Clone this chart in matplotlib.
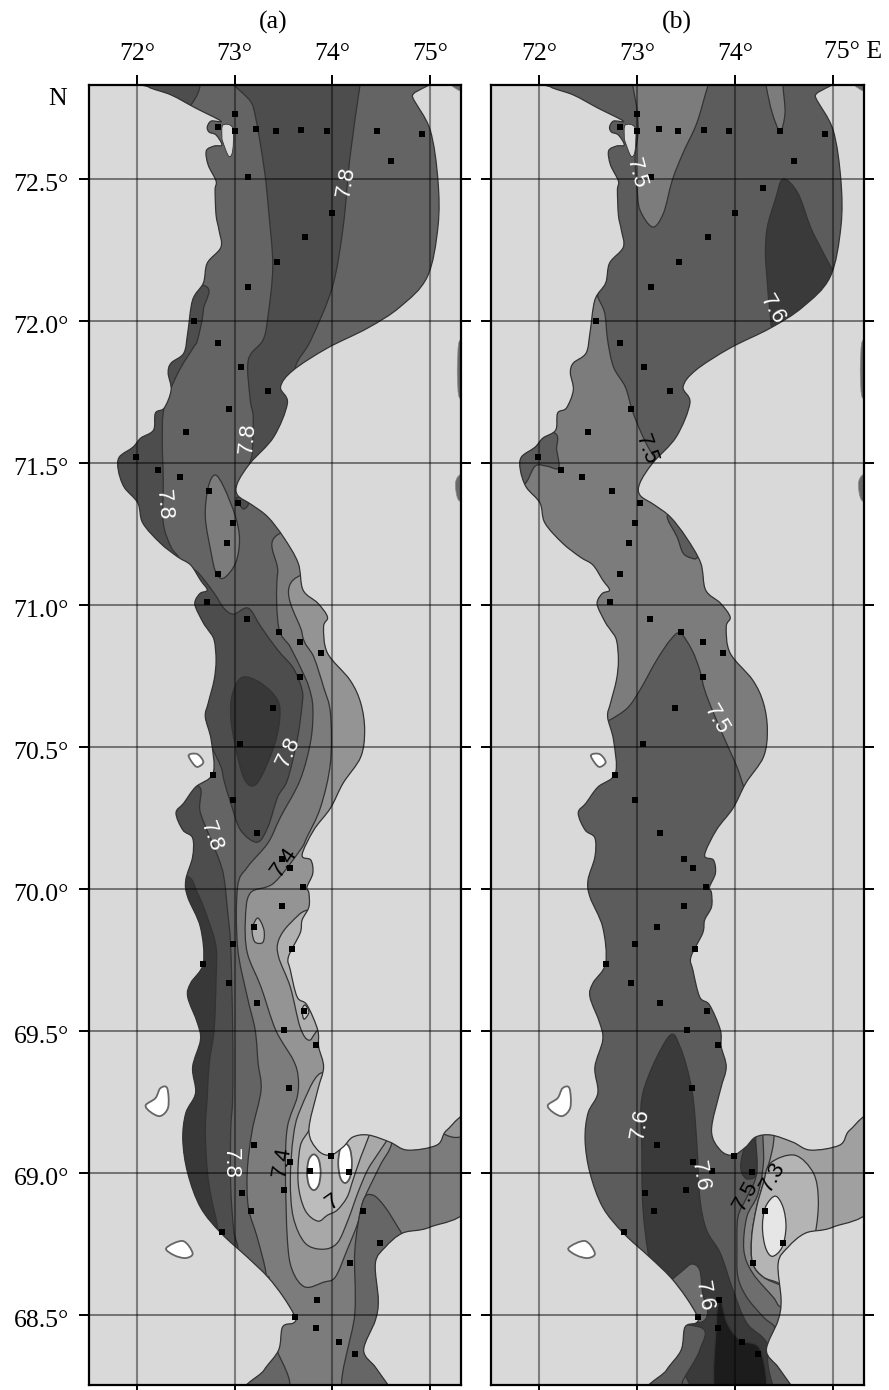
import numpy as np
import matplotlib
matplotlib.use("Agg")
import matplotlib.pyplot as plt
from matplotlib.path import Path
from matplotlib.patches import PathPatch
from matplotlib.transforms import ScaledTranslation

plt.rcParams['font.family'] = ['Liberation Serif', 'DejaVu Serif']

# ====================
# Axis values
# ====================
lon_ticks = [72, 73, 74, 75]
lat_ticks = [72.5, 72.0, 71.5, 71.0, 70.5, 70.0, 69.5, 69.0, 68.5]
lon_labels = ['72°', '73°', '74°', '75°']
lat_labels = ['72.5°', '72.0°', '71.5°', '71.0°', '70.5°', '70.0°', '69.5°', '69.0°', '68.5°']

# ====================
# Coast of the gulf (lon, lat)
# ====================
coast_lon = [72.12, 72.35, 72.60, 72.86, 72.76, 72.72, 72.74, 72.81, 72.87, 72.79, 72.71, 72.73, 72.81, 72.80,
             72.81, 72.84, 72.86, 72.72, 72.68, 72.57, 72.52, 72.48, 72.35, 72.32, 72.35, 72.28, 72.19, 72.17,
             72.04, 71.96, 71.82, 71.81, 71.87, 72.01, 72.06, 72.24, 72.42, 72.55, 72.65, 72.72, 72.65, 72.60,
             72.60, 72.68, 72.73, 72.79, 72.81, 72.79, 72.73, 72.70, 72.76, 72.78, 72.60, 72.48, 72.40, 72.47,
             72.57, 72.57, 72.50, 72.52, 72.65, 72.68, 72.55, 72.52, 72.62, 72.65, 72.57, 72.60, 72.50, 72.47,
             72.52, 72.65, 72.86, 73.13, 73.34, 73.50, 73.62, 73.60, 73.49, 73.45, 73.30, 73.16, 74.64, 74.57,
             74.44, 74.32, 74.44, 74.47, 74.44, 74.54, 74.72, 75.00, 75.41, 75.41, 75.17, 75.07, 74.77, 74.59,
             74.37, 74.21, 74.11, 73.98, 73.85, 73.76, 73.85, 73.91, 73.86, 73.85, 73.74, 73.64, 73.57, 73.55,
             73.67, 73.69, 73.76, 73.76, 73.74, 73.80, 73.78, 73.69, 73.81, 73.98, 74.11, 74.29, 74.33, 74.29,
             74.18, 73.95, 73.91, 73.95, 73.85, 73.70, 73.65, 73.50, 73.34, 73.18, 73.03, 73.03, 73.16, 73.40,
             73.54, 73.47, 73.60, 73.95, 74.36, 74.69, 74.97, 75.08, 75.08, 75.00, 74.82, 74.80, 72.12]
coast_lat = [72.824, 72.796, 72.750, 72.704, 72.704, 72.683, 72.665, 72.655, 72.620, 72.616, 72.599, 72.549,
             72.493, 72.461, 72.373, 72.320, 72.260, 72.204, 72.134, 72.074, 71.958, 71.887, 71.852, 71.817,
             71.757, 71.694, 71.676, 71.616, 71.588, 71.556, 71.521, 71.475, 71.415, 71.359, 71.289, 71.218,
             71.169, 71.141, 71.088, 71.053, 71.042, 71.018, 70.993, 70.937, 70.912, 70.877, 70.806, 70.736,
             70.655, 70.606, 70.525, 70.408, 70.359, 70.303, 70.268, 70.208, 70.180, 70.113, 70.032, 69.972,
             69.866, 69.739, 69.669, 69.620, 69.528, 69.468, 69.373, 69.282, 69.211, 69.116, 69.000, 68.880,
             68.789, 68.704, 68.634, 68.563, 68.493, 68.472, 68.458, 68.377, 68.306, 68.218, 68.218, 68.254,
             68.317, 68.377, 68.482, 68.553, 68.683, 68.739, 68.789, 68.810, 68.891, 69.194, 69.151, 69.099,
             69.081, 69.109, 69.134, 69.127, 69.092, 69.063, 69.081, 69.151, 69.292, 69.373, 69.444, 69.504,
             69.592, 69.620, 69.715, 69.761, 69.845, 69.891, 69.937, 69.986, 70.007, 70.056, 70.102, 70.120,
             70.208, 70.285, 70.373, 70.465, 70.560, 70.655, 70.736, 70.831, 70.923, 70.958, 71.007, 71.053,
             71.148, 71.239, 71.310, 71.352, 71.387, 71.430, 71.500, 71.592, 71.711, 71.768, 71.827, 71.905,
             71.975, 72.049, 72.155, 72.331, 72.496, 72.673, 72.789, 72.849, 72.849]

# Land pieces and islands
lagoon_lon = [72.88, 72.98, 72.98, 72.94, 72.88, 72.87]
lagoon_lat = [72.69, 72.68, 72.60, 72.58, 72.63, 72.65]
island1_lon = [72.24, 72.31, 72.32, 72.24, 72.14, 72.09, 72.19]
island1_lat = [69.299, 69.299, 69.232, 69.201, 69.215, 69.239, 69.264]
island2_lon = [72.30, 72.47, 72.57, 72.50, 72.38]
island2_lat = [68.736, 68.761, 68.718, 68.701, 68.711]
island3_lon = [72.53, 72.62, 72.68, 72.62, 72.57]
island3_lat = [70.472, 70.475, 70.447, 70.430, 70.444]
east1_lon = [75.30, 75.28, 75.28, 75.30, 75.40, 75.40]
east1_lat = [71.93, 71.85, 71.80, 71.73, 71.73, 71.93]
east2_lon = [75.31, 75.26, 75.29, 75.40, 75.40]
east2_lat = [71.46, 71.43, 71.37, 71.37, 71.46]
east3_lon = [75.22, 75.22, 75.31, 75.40, 75.40]
east3_lat = [72.85, 72.83, 72.81, 72.81, 72.85]

# Stations
station_lon = [73.00, 72.83, 73.00, 73.22, 73.42, 73.68, 73.94, 74.46, 74.92, 74.60, 73.14, 74.00, 73.72, 73.43,
               73.14, 72.58, 72.83, 73.07, 73.34, 72.94, 72.50, 71.99, 72.22, 72.44, 72.74, 73.03, 72.98, 72.92,
               72.83, 72.72, 73.13, 73.45, 73.67, 73.88, 73.67, 73.39, 73.06, 72.78, 72.98, 73.23, 73.48, 73.57,
               73.70, 73.48, 73.20, 73.59, 72.98, 72.68, 72.94, 73.23, 73.71, 73.51, 73.83, 73.56, 73.20, 73.57,
               73.99, 73.77, 74.17, 73.50, 73.08, 73.17, 74.31, 74.49, 74.18, 72.87, 73.84, 73.62, 73.83, 74.07,
               74.23]
station_lat = [72.729, 72.683, 72.669, 72.676, 72.669, 72.673, 72.669, 72.669, 72.658, 72.563, 72.507, 72.380,
               72.296, 72.208, 72.120, 72.000, 71.923, 71.838, 71.754, 71.690, 71.609, 71.521, 71.475, 71.451,
               71.401, 71.359, 71.289, 71.218, 71.109, 71.011, 70.951, 70.905, 70.870, 70.831, 70.746, 70.637,
               70.511, 70.401, 70.313, 70.197, 70.106, 70.074, 70.007, 69.940, 69.866, 69.789, 69.806, 69.736,
               69.669, 69.599, 69.570, 69.504, 69.451, 69.299, 69.099, 69.039, 69.060, 69.007, 69.004, 68.940,
               68.930, 68.866, 68.866, 68.754, 68.683, 68.792, 68.553, 68.493, 68.454, 68.405, 68.363]
extra_station_b_lon = [74.29]
extra_station_b_lat = [72.468]

# ====================
# Panel (a) isohaline areas
# ====================
a_topleft_lon = [72.12, 72.62, 72.55, 72.35, 71.94]
a_topleft_lat = [72.849, 72.849, 72.76, 72.743, 72.813]
a_band_lon = [73.06, 73.19, 73.30, 73.35, 73.39, 73.34, 73.29, 73.14, 73.16, 73.19, 73.18, 73.16, 73.29, 73.67,
              73.62, 73.78, 74.00, 74.11, 74.18, 74.28, 74.29]
a_band_lat = [72.849, 72.754, 72.542, 72.380, 72.190, 72.014, 71.933, 71.863, 71.722, 71.662, 71.535, 71.493,
              71.468, 71.722, 71.835, 71.933, 72.120, 72.331, 72.577, 72.824, 72.849]
a_west_lon = [72.65, 72.68, 72.62, 72.58, 72.42, 72.28, 72.26, 72.27, 72.27, 72.35, 72.43, 72.45, 71.63, 71.63]
a_west_lat = [72.127, 72.039, 71.933, 71.908, 71.817, 71.697, 71.581, 71.440, 71.289, 71.204, 71.165, 71.106,
              71.158, 72.074]
a_lens_lon = [72.80, 72.89, 73.01, 73.05, 73.01, 72.89, 72.81, 72.76, 72.70, 72.73]
a_lens_lat = [71.458, 71.415, 71.310, 71.229, 71.148, 71.095, 71.113, 71.183, 71.310, 71.415]
a_spot_lon = [73.03, 73.14, 73.09, 73.03]
a_spot_lat = [71.38, 71.359, 71.338, 71.366]
a_mid_lon = [72.55, 72.62, 72.79, 72.89, 72.99, 73.14, 73.27, 73.44, 73.60, 73.69, 73.69, 73.64, 73.54, 73.44,
             73.34, 73.23, 73.06, 72.96, 72.89, 72.86, 72.76, 72.70, 72.65, 72.55]
a_mid_lat = [71.116, 71.116, 71.042, 70.989, 70.968, 70.989, 70.923, 70.842, 70.778, 70.701, 70.648, 70.525,
             70.384, 70.324, 70.218, 70.165, 70.208, 70.303, 70.384, 70.430, 70.500, 70.507, 70.666, 71.018]
a_blob_lon = [73.08, 73.27, 73.44, 73.46, 73.40, 73.27, 73.18, 73.09, 73.01, 72.96, 72.98]
a_blob_lat = [70.746, 70.725, 70.665, 70.595, 70.500, 70.394, 70.363, 70.394, 70.500, 70.606, 70.690]
a_south_lon = [72.60, 72.65, 72.83, 72.89, 72.93, 72.96, 72.98, 72.98, 72.96, 72.96, 72.99, 73.02, 72.76, 71.73,
               71.94]
a_south_lat = [70.366, 70.268, 70.113, 70.042, 69.915, 69.796, 69.504, 69.268, 69.151, 68.951, 68.799, 68.729,
               68.729, 69.257, 70.313]
a_deep_lon = [72.48, 72.62, 72.73, 72.81, 72.81, 72.79, 72.74, 72.72, 72.70, 72.72, 72.76, 72.83, 72.78, 71.79,
              71.94]
a_deep_lat = [70.049, 69.986, 69.891, 69.796, 69.680, 69.504, 69.387, 69.268, 69.151, 69.011, 68.915, 68.799,
              68.764, 69.257, 70.032]
a_east7_lon = [73.57, 73.44, 73.45, 73.57, 73.70, 73.76, 73.80, 73.78, 73.67, 73.47, 73.34, 73.13, 73.03, 73.03,
               73.13, 73.21, 73.24, 73.27, 73.18, 73.13, 73.14, 73.23, 73.32, 73.29, 72.65, 75.51, 75.51]
a_east7_lat = [71.264, 71.113, 70.923, 70.852, 70.761, 70.711, 70.641, 70.525, 70.384, 70.254, 70.162, 70.077,
               70.007, 69.796, 69.620, 69.504, 69.387, 69.292, 69.151, 69.011, 68.880, 68.775, 68.648, 68.588,
               68.200, 68.200, 71.264]
a_east9_lon = [73.69, 73.69, 73.81, 73.91, 73.98, 73.98, 73.88, 73.74, 73.67, 73.40, 73.16, 73.11, 73.13, 73.27,
               73.42, 73.60, 73.65, 73.64, 73.54, 73.52, 73.54, 73.59, 73.72, 73.91, 74.03, 74.15, 74.26, 74.32,
               74.49, 74.61, 74.64, 75.51, 75.51]
a_east9_lat = [71.106, 70.901, 70.817, 70.711, 70.620, 70.444, 70.289, 70.183, 70.137, 70.021, 69.986, 69.891,
               69.775, 69.655, 69.504, 69.398, 69.338, 69.268, 69.162, 69.011, 68.764, 68.658, 68.599, 68.616,
               68.634, 68.729, 68.824, 68.905, 69.028, 69.109, 69.257, 69.257, 71.106]
a_se_lon = [74.13, 74.23, 74.23, 74.31, 74.41, 74.54, 74.72, 74.95, 74.95]
a_se_lat = [68.200, 68.507, 68.729, 68.898, 68.923, 68.880, 68.782, 68.658, 68.200]
a_sw_lon = [73.39, 73.44, 73.55, 73.06, 73.06]
a_sw_lat = [68.394, 68.370, 68.236, 68.200, 68.394]
a_north_lon = [73.78, 73.57, 73.45, 73.45, 73.57, 73.67, 73.76, 73.85, 74.13, 74.13]
a_north_lat = [69.926, 69.880, 69.820, 69.761, 69.655, 69.514, 69.468, 69.504, 69.610, 69.856]
a_isle_lon = [73.19, 73.24, 73.30, 73.29, 73.21, 73.18]
a_isle_lat = [69.873, 69.898, 69.856, 69.813, 69.813, 69.845]
a_coastspot_lon = [73.69, 73.72, 73.76, 73.71]
a_coastspot_lat = [69.574, 69.592, 69.567, 69.542]
a_inner1_lon = [73.88, 73.67, 73.60, 73.57, 73.60, 73.72, 73.90, 74.05, 74.16, 74.26, 74.36, 74.47, 74.59, 74.64,
                74.13]
a_inner1_lat = [69.352, 69.222, 69.127, 68.975, 68.845, 68.754, 68.732, 68.754, 68.835, 68.930, 69.011, 69.070,
                69.134, 69.187, 69.292]
a_inner2_lon = [73.76, 73.67, 73.65, 73.72, 73.85, 73.95, 74.05, 74.15, 74.21, 74.29, 74.37, 74.41, 73.88]
a_inner2_lat = [69.151, 69.092, 68.965, 68.870, 68.831, 68.852, 68.870, 68.915, 68.975, 69.056, 69.127, 69.180,
                69.239]
a_fresh1_lon = [73.81, 73.86, 73.88, 73.86, 73.81, 73.76, 73.74, 73.76]
a_fresh1_lat = [69.066, 69.048, 69.003, 68.958, 68.940, 68.958, 69.003, 69.048]
a_fresh2_lon = [74.13, 74.18, 74.20, 74.18, 74.13, 74.08, 74.06, 74.08]
a_fresh2_lat = [69.105, 69.085, 69.035, 68.985, 68.965, 68.985, 69.035, 69.085]
a_text = ['7.8', '7.8', '7.8', '7.8', '7.8', '7.4', '7.8', '7.4', '7']
a_text_lon = [74.14, 73.13, 72.27, 73.55, 72.76, 73.51, 72.96, 73.49, 74.00]
a_text_lat = [72.489, 71.588, 71.352, 70.482, 70.183, 70.095, 69.035, 69.039, 68.898]
a_text_rot = [80, 85, -85, 65, -70, 55, -90, 80, 35]
a_text_col = ['white', 'white', 'white', 'white', 'white', 'black', 'white', 'black', 'black']

# ====================
# Panel (b) isohaline areas
# ====================
b_tongue_lon = [72.96, 73.00, 73.01, 72.98, 73.00, 73.03, 73.16, 73.27, 73.36, 73.47, 73.61, 73.72, 73.77, 72.96]
b_tongue_lat = [72.824, 72.743, 72.662, 72.577, 72.472, 72.391, 72.331, 72.380, 72.496, 72.592, 72.697, 72.824,
                72.859, 72.859]
b_tongue2_lon = [74.32, 74.38, 74.46, 74.51, 74.49, 74.49, 74.32]
b_tongue2_lat = [72.824, 72.732, 72.669, 72.732, 72.824, 72.860, 72.860]
b_ne_lon = [74.49, 74.64, 74.77, 74.87, 75.00, 75.15, 74.69, 74.41, 74.35, 74.33, 74.31, 74.33, 74.41]
b_ne_lat = [72.500, 72.451, 72.331, 72.261, 72.180, 72.127, 71.968, 71.951, 72.056, 72.134, 72.239, 72.331, 72.426]
b_west_lon = [72.55, 72.60, 72.67, 72.70, 72.76, 72.88, 72.95, 73.03, 73.13, 73.23, 73.37, 73.67, 74.39, 74.49,
              74.13, 74.10, 74.02, 73.93, 73.78, 73.69, 73.64, 73.56, 73.44, 73.34, 73.20, 73.03, 72.90, 72.72,
              72.60, 71.63, 71.63]
b_west_lat = [72.144, 72.085, 72.028, 71.933, 71.838, 71.768, 71.687, 71.616, 71.546, 71.500, 71.475, 71.440,
              70.877, 70.349, 70.331, 70.349, 70.430, 70.500, 70.620, 70.701, 70.771, 70.842, 70.901, 70.877,
              70.806, 70.701, 70.637, 70.595, 70.577, 70.595, 72.144]
b_bulge_lon = [72.14, 72.18, 72.20, 72.08, 71.96, 71.84, 71.63, 71.63]
b_bulge_lat = [71.609, 71.546, 71.482, 71.489, 71.489, 71.423, 71.440, 71.609]
b_spot_lon = [73.31, 73.41, 73.47, 73.56, 73.62, 73.72, 73.52]
b_spot_lat = [71.317, 71.239, 71.183, 71.165, 71.169, 71.229, 71.334]
b_s1_lon = [74.22, 74.22, 74.12, 74.03, 74.02, 74.03, 74.12, 74.29, 74.41, 74.38, 74.69, 75.51, 75.51, 74.39]
b_s1_lat = [69.169, 69.000, 68.915, 68.845, 68.729, 68.634, 68.563, 68.493, 68.454, 68.394, 68.342, 68.553,
            69.257, 69.257]
b_s2_lon = [74.29, 74.29, 74.23, 74.12, 74.09, 74.18, 74.39, 74.47, 74.69, 75.51, 75.51, 74.39]
b_s2_lat = [69.169, 69.035, 68.923, 68.845, 68.729, 68.648, 68.563, 68.528, 68.518, 68.553, 69.257, 69.257]
b_s3_lon = [74.42, 74.38, 74.29, 74.22, 74.17, 74.18, 74.29, 74.47, 74.69, 75.51, 75.51, 74.54]
b_s3_lat = [69.169, 69.081, 68.965, 68.880, 68.775, 68.683, 68.634, 68.606, 68.588, 68.729, 69.257, 69.257]
b_s4_lon = [74.36, 74.61, 74.80, 74.85, 74.82, 74.74, 74.59, 74.49, 74.44, 74.29, 74.18, 74.17, 74.22, 74.29]
b_s4_lat = [69.035, 69.063, 69.000, 68.905, 68.792, 68.729, 68.658, 68.581, 68.613, 68.634, 68.683, 68.775,
            68.880, 68.965]
b_fresh_lon = [74.41, 74.49, 74.52, 74.48, 74.38, 74.31, 74.28, 74.31]
b_fresh_lat = [68.919, 68.880, 68.810, 68.739, 68.707, 68.739, 68.810, 68.880]
b_deep_lon = [73.32, 73.44, 73.56, 73.61, 73.64, 73.71, 73.85, 73.98, 74.12, 74.34, 74.54, 73.67, 73.27, 73.13,
              73.06, 73.05, 73.06]
b_deep_lat = [69.479, 69.444, 69.292, 69.106, 68.915, 68.799, 68.718, 68.588, 68.472, 68.394, 68.200, 68.200,
              68.518, 68.687, 68.880, 69.081, 69.282]
b_gulfblob_lon = [74.06, 74.10, 74.20, 74.22, 74.13, 74.07]
b_gulfblob_lat = [69.035, 69.088, 69.116, 69.000, 68.979, 69.000]
b_black_lon = [73.85, 73.81, 73.82, 74.29, 74.26, 74.05, 73.92]
b_black_lat = [68.553, 68.472, 68.200, 68.200, 68.377, 68.412, 68.472]
b_bottom_lon = [73.64, 73.64, 73.47, 73.44, 72.96, 72.96]
b_bottom_lat = [68.458, 68.377, 68.271, 68.236, 68.236, 68.447]
b_bottom2_lon = [74.34, 74.47, 74.90, 74.69]
b_bottom2_lat = [68.377, 68.200, 68.200, 68.377]
b_patch_lon = [73.35, 73.47, 73.56, 73.64, 73.67, 73.72, 73.65, 73.50, 73.29]
b_patch_lat = [68.623, 68.658, 68.680, 68.658, 68.577, 68.507, 68.475, 68.500, 68.606]
b_text = ['7.5', '7.6', '7.5', '7.5', '7.6', '7.6', '7.5', '7.3', '7.6']
b_text_lon = [72.99, 74.38, 73.09, 73.81, 73.03, 73.64, 74.11, 74.39, 73.68]
b_text_lat = [72.521, 72.039, 71.546, 70.595, 69.173, 68.989, 68.919, 68.986, 68.567]
b_text_rot = [-75, -60, -70, -60, 80, -80, 60, 60, -80]
b_text_col = ['white', 'white', 'black', 'white', 'white', 'white', 'black', 'black', 'white']

LAND = '#d9d9d9'
EDGE = '#333333'
FS = 18.5


def smooth_path(lon, lat):
    pts = np.column_stack([lon, lat])
    n = len(pts)
    verts = [pts[0]]
    codes = [Path.MOVETO]
    for i in range(n):
        p0, p1, p2, p3 = pts[i - 1], pts[i], pts[(i + 1) % n], pts[(i + 2) % n]
        verts += [p1 + (p2 - p0) / 6, p2 - (p3 - p1) / 6, p2]
        codes += [Path.CURVE4] * 3
    return Path(np.array(verts), codes)


def add_area(ax, lon, lat, color, clip=None, lw=0.9, edge=EDGE, z=2):
    patch = PathPatch(smooth_path(lon, lat), facecolor=color, edgecolor=edge, linewidth=lw, zorder=z)
    ax.add_patch(patch)
    if clip is not None:
        patch.set_clip_path(clip)
    return patch


def setup_axes(ax, left_labels):
    ax.set_facecolor(LAND)
    ax.set_xlim(71.51, 75.316)
    ax.set_ylim(68.254, 72.831)
    ax.set_xticks(lon_ticks)
    ax.set_yticks(lat_ticks)
    ax.set_xticklabels(lon_labels)
    ax.set_yticklabels(lat_labels if left_labels else [])
    ax.tick_params(top=True, bottom=True, left=True, right=True, labeltop=True, labelbottom=False,
                   length=7.5, width=1.4, labelsize=FS, pad=7)
    ax.tick_params(axis='y', pad=7)
    # latitude labels sit a little under their ticks
    down = ScaledTranslation(0, -2.2 / 72, fig.dpi_scale_trans)
    for label in ax.get_yticklabels():
        label.set_transform(label.get_transform() + down)
    for s in ax.spines.values():
        s.set_linewidth(1.6)
        s.set_zorder(8)
    for x in lon_ticks:
        ax.axvline(x, color='black', alpha=0.42, lw=1.5, zorder=5)
    for y in lat_ticks:
        ax.axhline(y, color='black', alpha=0.55, lw=1.2, zorder=5)


def add_common(ax, sea):
    for lon, lat in [(east1_lon, east1_lat), (east2_lon, east2_lat), (east3_lon, east3_lat)]:
        add_area(ax, lon, lat, '#6a6a6a', lw=0.5, edge='#888888')
    for lon, lat in [(island1_lon, island1_lat), (island2_lon, island2_lat), (island3_lon, island3_lat)]:
        add_area(ax, lon, lat, 'white', lw=1.3, edge='#666666', z=4)
    add_area(ax, lagoon_lon, lagoon_lat, LAND, lw=0.6, z=4)
    ax.add_patch(PathPatch(sea.get_path(), facecolor='none', edgecolor=EDGE, linewidth=0.9, zorder=4))


def add_texts(ax, texts, lons, lats, rots, cols):
    for s, x, y, r, c in zip(texts, lons, lats, rots, cols):
        ax.text(x, y, s, rotation=r, color=c, fontsize=16, ha='center', va='center', zorder=7,
                family=['Liberation Sans', 'DejaVu Sans'], rotation_mode='anchor')


fig = plt.figure(figsize=(8.89, 13.90), dpi=100)
H = 1390.0
W = 889.0
ax_a = fig.add_axes([89 / W, 1 - 1385 / H, 372 / W, 1300 / H])
ax_b = fig.add_axes([491 / W, 1 - 1385 / H, 373 / W, 1300 / H])
setup_axes(ax_a, True)
setup_axes(ax_b, False)

# ====================
# Panel (a)
# ====================
sea_a = add_area(ax_a, coast_lon, coast_lat, '#646464', lw=0)
areas_a = [
    (a_topleft_lon, a_topleft_lat, '#4d4d4d'),
    (a_band_lon, a_band_lat, '#4d4d4d'),
    (a_west_lon, a_west_lat, '#4d4d4d'),
    (a_lens_lon, a_lens_lat, '#7c7c7c'),
    (a_spot_lon, a_spot_lat, '#4d4d4d'),
    (a_mid_lon, a_mid_lat, '#4d4d4d'),
    (a_blob_lon, a_blob_lat, '#383838'),
    (a_south_lon, a_south_lat, '#4d4d4d'),
    (a_deep_lon, a_deep_lat, '#383838'),
    (a_east7_lon, a_east7_lat, '#7c7c7c'),
    (a_east9_lon, a_east9_lat, '#949494'),
    (a_se_lon, a_se_lat, '#666666'),
    (a_sw_lon, a_sw_lat, '#666666'),
    (a_north_lon, a_north_lat, '#b0b0b0'),
    (a_isle_lon, a_isle_lat, '#b0b0b0'),
    (a_coastspot_lon, a_coastspot_lat, '#c8c8c8'),
    (a_inner1_lon, a_inner1_lat, '#a8a8a8'),
    (a_inner2_lon, a_inner2_lat, '#bcbcbc'),
]
for lon, lat, color in areas_a:
    add_area(ax_a, lon, lat, color, clip=sea_a)
add_area(ax_a, a_fresh1_lon, a_fresh1_lat, 'white', clip=sea_a, lw=1.3, edge='#555555')
add_area(ax_a, a_fresh2_lon, a_fresh2_lat, 'white', clip=sea_a, lw=1.3, edge='#555555')
add_common(ax_a, sea_a)
ax_a.scatter(station_lon, station_lat, s=14, marker='s', color='black', linewidths=0, zorder=6)
add_texts(ax_a, a_text, a_text_lon, a_text_lat, a_text_rot, a_text_col)

# ====================
# Panel (b)
# ====================
sea_b = add_area(ax_b, coast_lon, coast_lat, '#5c5c5c', lw=0)
areas_b = [
    (b_tongue_lon, b_tongue_lat, '#7c7c7c'),
    (b_tongue2_lon, b_tongue2_lat, '#7c7c7c'),
    (b_ne_lon, b_ne_lat, '#3a3a3a'),
    (b_west_lon, b_west_lat, '#7c7c7c'),
    (b_bulge_lon, b_bulge_lat, '#5c5c5c'),
    (b_spot_lon, b_spot_lat, '#5c5c5c'),
    (b_s1_lon, b_s1_lat, '#6e6e6e'),
    (b_s2_lon, b_s2_lat, '#8a8a8a'),
    (b_s3_lon, b_s3_lat, '#a0a0a0'),
    (b_s4_lon, b_s4_lat, '#b4b4b4'),
    (b_fresh_lon, b_fresh_lat, '#e6e6e6'),
    (b_deep_lon, b_deep_lat, '#3a3a3a'),
    (b_gulfblob_lon, b_gulfblob_lat, '#3a3a3a'),
    (b_black_lon, b_black_lat, '#1c1c1c'),
    (b_bottom_lon, b_bottom_lat, '#5c5c5c'),
    (b_bottom2_lon, b_bottom2_lat, '#5c5c5c'),
    (b_patch_lon, b_patch_lat, '#6e6e6e'),
]
for lon, lat, color in areas_b:
    add_area(ax_b, lon, lat, color, clip=sea_b)
add_common(ax_b, sea_b)
ax_b.scatter(station_lon + extra_station_b_lon, station_lat + extra_station_b_lat, s=14, marker='s',
             color='black', linewidths=0, zorder=6)
add_texts(ax_b, b_text, b_text_lon, b_text_lat, b_text_rot, b_text_col)

# ====================
# Outer text
# ====================
ax_b.set_xticklabels(lon_labels[:3] + [''])
ax_b.annotate('75° E', xy=(75, 1), xycoords=('data', 'axes fraction'), xytext=(14.4, 24),
              textcoords='offset points', ha='center', va='center', fontsize=FS)
fig.text(273 / W, 1 - 22 / H, '(a)', ha='center', va='center', fontsize=FS)
fig.text(677 / W, 1 - 22 / H, '(b)', ha='center', va='center', fontsize=FS)
fig.text(58 / W, 1 - 99 / H, 'N', ha='center', va='center', fontsize=FS)

fig.savefig('out.png', dpi=100, facecolor='white')
